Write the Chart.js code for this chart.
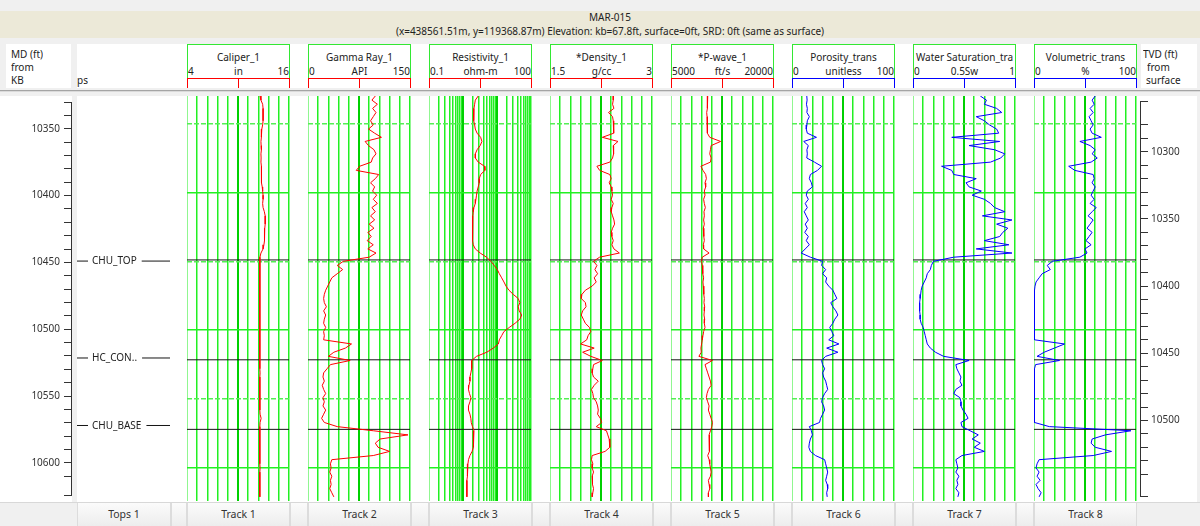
<!DOCTYPE html>
<html>
<head>
<meta charset="utf-8">
<title>MAR-015</title>
<script src="https://cdn.jsdelivr.net/npm/chart.js@4.4.1/dist/chart.umd.min.js"></script>
<style>
  html, body { margin: 0; padding: 0; }
  body {
    position: relative; width: 1200px; height: 526px; overflow: hidden;
    background: #f0f0f0; color: #222;
    font-family: "Noto Sans", "Liberation Sans", sans-serif; font-size: 10px;
  }
  .box { position: absolute; box-sizing: border-box; }
  .txt { position: absolute; white-space: nowrap; line-height: 13px; overflow: hidden; }
  canvas { position: absolute; }
</style>
</head>
<body>
<script>
// measured depth samples, ft from KB
const depthMD = [
  10330, 10333, 10336, 10339, 10342, 10345, 10348, 10351, 10354, 10357,
  10360, 10363, 10366, 10369, 10372, 10375, 10378, 10381, 10384, 10387,
  10390, 10393, 10396, 10399, 10402, 10405, 10408, 10411, 10414, 10417,
  10420, 10423, 10426, 10429, 10432, 10435, 10438, 10441, 10444, 10447,
  10450, 10453, 10456, 10459, 10462, 10465, 10468, 10471, 10474, 10477,
  10480, 10483, 10486, 10489, 10492, 10495, 10498, 10501, 10504, 10507,
  10510, 10513, 10516, 10519, 10522, 10525, 10528, 10531, 10534, 10537,
  10540, 10543, 10546, 10549, 10552, 10555, 10558, 10561, 10564, 10567,
  10570, 10573, 10576, 10579, 10582, 10585, 10588, 10591, 10594, 10597,
  10600, 10603, 10606, 10609, 10612, 10615, 10618, 10621
];

const caliper = [
  12.6, 12.7, 12.9, 12.95, 12.95, 12.95, 12.95, 12.9, 12.8, 12.75,
  12.75, 12.7, 12.72, 12.75, 12.7, 12.72, 12.7, 12.75, 12.72, 12.75,
  12.78, 12.8, 12.85, 12.9, 12.95, 12.95, 12.9, 12.95, 13.1, 13.2,
  13.2, 13.2, 13.15, 13.15, 13.1, 13.1, 13.05, 12.95, 12.7, 12.58,
  12.57, 12.57, 12.56, 12.57, 12.57, 12.58, 12.57, 12.56, 12.57, 12.57,
  12.57, 12.58, 12.57, 12.56, 12.57, 12.57, 12.58, 12.57, 12.57, 12.56,
  12.57, 12.57, 12.58, 12.57, 12.56, 12.57, 12.57, 12.6, 12.57, 12.57,
  12.56, 12.57, 12.57, 12.58, 12.57, 12.57, 12.58, 12.6, 12.72, 12.6,
  12.57, 12.57, 12.56, 12.57, 12.58, 12.57, 12.57, 12.56, 12.57, 12.57,
  12.6, 12.57, 12.57, 12.56, 12.57, 12.57, 12.57, 12.57
];

const gammaRay = [
  99, 94, 102, 95, 100, 96, 92, 96, 89, 98,
  108, 84, 89, 97, 100, 95, 93, 76, 71, 104,
  99, 92, 98, 95, 101, 96, 102, 94, 99, 92,
  98, 90, 97, 88, 93, 87, 96, 88, 100, 90,
  52, 43, 51, 43, 35, 32, 29, 26, 24, 23,
  24, 27, 23, 26, 24, 23, 26, 23, 24, 23,
  64, 55, 38, 30, 62, 33, 28, 23, 22, 24,
  21, 23, 26, 22, 24, 22, 26, 23, 20, 24,
  43, 96, 147, 106, 99, 103, 120, 96, 35, 33,
  34, 32, 35, 33, 34, 32, 35, 38
];

const resistivity = [
  2.8, 2.3, 2.2, 2.1, 2.0, 2.1, 2.1, 2.2, 2.3, 2.6,
  3.3, 3.6, 3.2, 2.6, 2.3, 2.3, 2.8, 4.3, 4.4, 3.3,
  3.0, 3.0, 2.8, 2.6, 2.5, 2.4, 2.3, 2.1, 2.0, 1.95,
  1.9, 1.9, 1.9, 1.9, 1.9, 1.95, 2.0, 2.3, 3.2, 4.9,
  6.6, 8.3, 10.2, 11.7, 13.7, 16, 18.4, 22.5, 30, 42,
  47, 42, 45, 53, 47, 34, 23, 16, 13.7, 11.7,
  11, 7.8, 5, 2.5, 1.8, 1.8, 1.8, 1.7, 1.6, 1.6,
  1.5, 1.45, 1.55, 1.7, 1.6, 1.45, 1.45, 1.6, 1.7, 1.75,
  1.9, 2.1, 2.1, 2.0, 2.0, 2.0, 1.85, 1.6, 1.45, 1.4,
  1.35, 1.35, 1.35, 1.3, 1.3, 1.3, 1.3, 1.3
];

const density = [
  2.43, 2.43, 2.42, 2.44, 2.36, 2.42, 2.43, 2.44, 2.43, 2.44,
  2.27, 2.50, 2.43, 2.44, 2.43, 2.42, 2.38, 2.19, 2.23, 2.38,
  2.40, 2.37, 2.40, 2.41, 2.42, 2.40, 2.43, 2.41, 2.40, 2.42,
  2.44, 2.45, 2.42, 2.40, 2.41, 2.43, 2.41, 2.44, 2.52, 2.23,
  2.14, 2.19, 2.16, 2.20, 2.15, 2.18, 2.12, 2.02, 1.97, 1.96,
  2.02, 2.03, 1.98, 1.96, 1.99, 2.02, 2.08, 2.10, 2.06, 2.04,
  1.95, 2.15, 1.98, 2.10, 2.27, 2.14, 2.13, 2.12, 2.14, 2.21,
  2.15, 2.11, 2.13, 2.14, 2.18, 2.20, 2.21, 2.20, 2.24, 2.26,
  2.18, 2.33, 2.35, 2.37, 2.38, 2.38, 2.31, 2.12, 2.11, 2.13,
  2.12, 2.14, 2.12, 2.13, 2.12, 2.14, 2.13, 2.12
];

const pWave = [
  10400, 10300, 10400, 10350, 10250, 10300, 10400, 10350, 10300, 10350,
  10700, 12300, 10900, 10800, 10700, 10900, 10800, 9400, 9700, 10100,
  10200, 10000, 10100, 9900, 10000, 9800, 9900, 10050, 9850, 9900,
  9800, 9900, 9750, 9850, 9800, 9900, 9750, 9800, 10600, 9600,
  9500, 9600, 9700, 9650, 9800, 9700, 9750, 9850, 9800, 9900,
  9850, 9950, 9900, 9850, 9950, 9900, 10000, 9800, 9700, 9600,
  9500, 9400, 9450, 9100, 11100, 10000, 10200, 10400, 10600, 10800,
  10900, 10500, 10300, 10200, 10400, 10600, 10500, 10700, 10900, 11100,
  11000, 10800, 10600, 10700, 10600, 10700, 10600, 10400, 10600, 10700,
  10800, 10900, 10800, 10500, 10600, 10700, 10500, 10500
];

const porosity = [
  14.5, 14.8, 14.2, 15, 14.6, 17, 15, 14.6, 14, 15,
  24, 11.5, 16, 14.6, 15, 14.5, 22, 29, 25, 18,
  17, 19, 20, 15, 14, 16, 13, 15, 12, 14,
  16, 13, 15, 12.5, 16, 14, 17, 13, 9, 18,
  30, 29, 33, 30, 34, 33, 36, 40, 42, 44,
  38, 40, 43, 45, 42, 40, 37, 39, 41, 36,
  46, 34, 45, 33, 29, 30, 32, 30, 31, 33,
  34, 35, 32, 30, 29, 31, 32, 30, 28, 27,
  17, 19, 20, 18, 17, 16.5, 18, 23, 32, 33,
  34, 35, 34, 33, 34.5, 35, 34, 34.5
];

const waterSat = [
  0.66, 0.72, 0.70, 0.82, 0.87, 0.62, 0.70, 0.75, 0.82, 0.84,
  0.38, 0.85, 0.55, 0.80, 0.90, 0.86, 0.76, 0.28, 0.38, 0.40,
  0.62, 0.52, 0.55, 0.67, 0.58, 0.70, 0.76, 0.80, 0.90, 0.68,
  0.97, 0.82, 0.93, 0.88, 0.85, 0.70, 0.94, 0.62, 0.97, 0.40,
  0.20, 0.18, 0.17, 0.14, 0.13, 0.11, 0.09, 0.08, 0.075, 0.07,
  0.065, 0.065, 0.065, 0.07, 0.07, 0.08, 0.10, 0.11, 0.12, 0.13,
  0.14, 0.17, 0.22, 0.30, 0.55, 0.42, 0.43, 0.45, 0.47, 0.46,
  0.48, 0.42, 0.40, 0.46, 0.47, 0.47, 0.49, 0.52, 0.54, 0.47,
  0.48, 0.56, 0.64, 0.58, 0.66, 0.60, 0.70, 0.48, 0.42, 0.43,
  0.44, 0.42, 0.45, 0.43, 0.44, 0.42, 0.45, 0.44
];

const volumetric = [
  60, 57, 59, 55, 58, 54, 56, 58, 55, 57,
  66, 45, 55, 60, 57, 62, 56, 34, 40, 58,
  59, 57, 60, 58, 56, 59, 55, 61, 57, 53,
  58, 55, 52, 57, 54, 51, 56, 50, 52, 45,
  18, 13, 16, 8, 5, 2, 1, 0.5, 0.5, 0.5,
  0.5, 0.5, 0.5, 0.5, 0.5, 0.5, 0.5, 0.5, 0.5, 0.5,
  30, 20, 10, 3, 25, 1.5, 0.5, 0.5, 0.5, 0.5,
  0.5, 0.5, 0.5, 0.5, 0.5, 0.5, 0.5, 0.5, 0.5, 0.5,
  15, 95, 70, 57, 56, 60, 76, 58, 5, 3,
  2, 5, 3, 6, 2, 4, 7, 5
];

// formation tops
const topNames = ['CHU_TOP', 'HC_CON..', 'CHU_BASE'];
const topDepths = [10449, 10521.5, 10572];

// track headers
const trackNames = ['Track 1', 'Track 2', 'Track 3', 'Track 4', 'Track 5', 'Track 6', 'Track 7', 'Track 8'];
const curveTitles = ['Caliper_1', 'Gamma Ray_1', 'Resistivity_1', '*Density_1', '*P-wave_1', 'Porosity_trans', 'Water Saturation_tra', 'Volumetric_trans'];
const curveUnits = ['in', 'API', 'ohm-m', 'g/cc', 'ft/s', 'unitless', '0.5Sw', '%'];
const scaleMin = [4, 0, 0.1, 1.5, 5000, 0, 0, 0];
const scaleMax = [16, 150, 100, 3, 20000, 100, 1, 100];
const scaleMinLabels = ['4', '0', '0.1', '1.5', '5000', '0', '0', '0'];
const scaleMaxLabels = ['16', '150', '100', '3', '20000', '100', '1', '100'];
const curveSeries = [caliper, gammaRay, resistivity, density, pWave, porosity, waterSat, volumetric];

const MD_TOP = 10330, MD_BOTTOM = 10624;
const KB_ELEV = 67.8;

const GRID = '#22f022';
const GRID_DASH = '#55ee55';
const GRID_MAJOR = '#00d000';
const HEAD_GREEN = '#33e833';
const RED = '#ff0000';
const BLUE = '#0000ff';
const FONT = '"Noto Sans", "Liberation Sans", sans-serif';

Chart.defaults.font.family = FONT;
Chart.defaults.font.size = 10;
Chart.defaults.color = '#333';

function el(cls, left, top, w, h, css, text) {
  const d = document.createElement('div');
  d.className = cls;
  d.style.cssText = 'left:' + left + 'px;top:' + top + 'px;' +
    (w != null ? 'width:' + w + 'px;' : '') + (h != null ? 'height:' + h + 'px;' : '') + (css || '');
  if (text != null) d.textContent = text;
  document.body.appendChild(d);
  return d;
}

function makeCtx(left, top, w, h) {
  const c = document.createElement('canvas');
  c.width = w; c.height = h;
  c.style.left = left + 'px'; c.style.top = top + 'px';
  c.style.width = w + 'px'; c.style.height = h + 'px';
  document.body.appendChild(c);
  return c.getContext('2d');
}

// ---- frame: title band, header panels, separator, plot background, footer ----
el('box', 0, 11, 1200, 27, 'background:#ece9d8;');
el('txt', 0, 11, 1220, 13, 'text-align:center;', 'MAR-015');
el('txt', 0, 25, 1220, 13, 'text-align:center;',
  '(x=438561.51m, y=119368.87m) Elevation: kb=67.8ft, surface=0ft, SRD: 0ft (same as surface)');

el('box', 6, 44, 65, 44, 'background:#fff;');
el('box', 77, 44, 1059, 44, 'background:#fff;');
el('box', 1141, 44, 56, 44, 'background:#fff;');
el('txt', 11, 48, null, 13, '', 'MD (ft)');
el('txt', 11, 61, null, 13, '', 'from');
el('txt', 11, 74, null, 13, '', 'KB');
el('txt', 77, 74, null, 13, '', 'ps');
el('txt', 1143, 48, null, 13, '', 'TVD (ft)');
el('txt', 1147, 61, null, 13, '', 'from');
el('txt', 1146, 74, null, 13, '', 'surface');

el('box', 0, 90, 1200, 1, 'background:#a4a4a4;');
el('box', 0, 91, 1200, 1, 'background:#dadada;');

el('box', 0, 96, 72, 406, 'background:#fff;');
el('box', 77, 96, 1120, 406, 'background:#fff;');

el('box', 0, 502, 1200, 24, 'background:#f0f0f0;border-top:1px solid #d8d8d8;');
const CELL = 'background:linear-gradient(#fbfbfb,#ededed);border-right:1px solid #dcdcdc;border-left:1px solid #dcdcdc;text-align:center;line-height:23px;color:#333;font-size:10.5px;';
el('box', 77, 503, 94, 23, CELL).textContent = 'Tops 1';
el('box', 171, 503, 16, 23, CELL);

const TRACK_X0 = 187, TRACK_STEP = 121, TRACK_W = 103;

// ---- tracks ----
curveTitles.forEach((title, i) => {
  const L = TRACK_X0 + TRACK_STEP * i;
  const isLog = i === 2;
  const color = i < 5 ? RED : BLUE;
  const lo = scaleMin[i], hi = scaleMax[i];

  // header
  el('box', L, 44, TRACK_W, 44, 'border:1px solid ' + HEAD_GREEN + ';border-bottom:none;background:#fff;');
  el('txt', L + 1, 51, TRACK_W - 2, 13, 'text-align:center;', title);
  el('txt', L + 1, 65, null, 13, '', scaleMinLabels[i]);
  el('txt', L, 65, TRACK_W, 13, 'text-align:center;', curveUnits[i]);
  el('txt', L, 65, TRACK_W - 1, 13, 'text-align:right;', scaleMaxLabels[i]);
  el('box', L, 78, TRACK_W, 1, 'background:' + color + ';');
  [0, 51, 102].forEach(dx => el('box', L + dx, 78, 1, 10, 'background:' + color + ';'));

  // footer cell
  el('box', L, 503, TRACK_W, 23, CELL).textContent = trackNames[i];
  if (i < 7) el('box', L + TRACK_W, 503, TRACK_STEP - TRACK_W, 23, CELL);

  // vertical grid positions
  let xGrid = [];
  if (isLog) {
    [0.1, 1, 10].forEach(d => { for (let m = 1; m <= 9; m++) xGrid.push(d * m); });
    xGrid.push(100);
  } else {
    for (let k = 0; k <= 10; k++) xGrid.push(lo + k * (hi - lo) / 10);
  }
  const isMajor = (c) => {
    if (!c.tick) return false;
    return isLog ? (c.tick.value === 1 || c.tick.value === 10) : c.index === 5;
  };

  const yBase = {
    type: 'linear', reverse: true, min: MD_TOP, max: MD_BOTTOM, position: 'left',
    afterFit: s => { s.width = 0; },
    ticks: { display: false }
  };

  const datasets = [{
    data: depthMD.map((d, k) => ({ x: curveSeries[i][k], y: d })),
    borderColor: color, borderWidth: 1, pointRadius: 0, tension: 0
  }].concat(topDepths.map(d => ({
    data: [{ x: lo, y: d }, { x: hi, y: d }],
    borderColor: '#151515', borderWidth: 1, pointRadius: 0
  })));

  new Chart(makeCtx(L, 92, TRACK_W, 413), {
    type: 'line',
    data: { datasets },
    options: {
      responsive: false, animation: false, events: [], indexAxis: 'y',
      layout: { autoPadding: false, padding: { top: 4, bottom: 4, left: 0, right: 1 } },
      plugins: { legend: { display: false }, tooltip: { enabled: false } },
      scales: {
        x: {
          type: isLog ? 'logarithmic' : 'linear', min: lo, max: hi, position: 'bottom',
          afterBuildTicks: s => { s.ticks = xGrid.map(v => ({ value: v })); },
          afterFit: s => { s.height = 0; },
          ticks: { display: false },
          border: { display: false },
          grid: {
            drawTicks: false,
            color: c => isMajor(c) ? GRID_MAJOR : GRID,
            lineWidth: c => isMajor(c) ? 2 : 1.5
          }
        },
        y: Object.assign({}, yBase, {
          afterBuildTicks: s => { s.ticks = [10400, 10500, 10600].map(v => ({ value: v })); },
          border: { display: false },
          grid: { drawTicks: false, color: GRID, lineWidth: 1.5 }
        }),
        y2: Object.assign({}, yBase, {
          afterBuildTicks: s => { s.ticks = [10350, 10450, 10550].map(v => ({ value: v })); },
          border: { display: false, dash: [5, 2] },
          grid: { drawTicks: false, color: GRID_DASH, lineWidth: 1.5 }
        })
      }
    }
  });
});

// ---- MD axis and tops column ----
const topLabels = {
  id: 'topLabels',
  afterDatasetsDraw(chart) {
    const { ctx, scales: { x, y } } = chart;
    ctx.save();
    ctx.font = '10px ' + FONT;
    ctx.textBaseline = 'middle';
    topNames.forEach((name, k) => {
      const py = y.getPixelForValue(topDepths[k]);
      const px = x.getPixelForValue(21);
      const w = ctx.measureText(name).width;
      ctx.fillStyle = '#fff';
      ctx.fillRect(px - 4, py - 4, w + 9, 8);
      ctx.fillStyle = '#222';
      ctx.fillText(name, px, py + 0.5);
    });
    ctx.restore();
  }
};

const depthTick = (v) => Math.abs(v % 50) < 1e-6 ? String(v) : '';

new Chart(makeCtx(0, 92, 172, 413), {
  type: 'line',
  data: {
    datasets: topDepths.map(d => ({
      data: [{ x: 6, y: d }, { x: 99, y: d }],
      borderColor: '#151515', borderWidth: 1, pointRadius: 0
    }))
  },
  options: {
    responsive: false, animation: false, events: [],
    layout: { autoPadding: false, padding: { top: 4, bottom: 4, left: 0, right: 1 } },
    plugins: { legend: { display: false }, tooltip: { enabled: false } },
    scales: {
      x: { type: 'linear', min: 0, max: 100, display: false },
      y: {
        type: 'linear', reverse: true, min: MD_TOP, max: MD_BOTTOM, position: 'left',
        afterFit: s => { s.width = 71; },
        ticks: { stepSize: 10, autoSkip: false, padding: 4, callback: depthTick, color: '#333' },
        grid: { drawOnChartArea: false, tickLength: 7, color: '#333' },
        border: { color: '#333' }
      }
    }
  },
  plugins: [topLabels]
});

// ---- TVD axis ----
new Chart(makeCtx(1130, 92, 70, 413), {
  type: 'line',
  data: { datasets: [] },
  options: {
    responsive: false, animation: false, events: [],
    layout: { autoPadding: false, padding: { top: 4, bottom: 4, left: 0, right: 0 } },
    plugins: { legend: { display: false }, tooltip: { enabled: false } },
    scales: {
      x: { type: 'linear', min: 0, max: 1, display: false },
      y: {
        type: 'linear', reverse: true, position: 'right',
        min: MD_TOP - KB_ELEV, max: MD_BOTTOM - KB_ELEV,
        afterFit: s => { s.width = 60; },
        ticks: { stepSize: 10, autoSkip: false, padding: 3, callback: depthTick, color: '#333' },
        grid: { drawOnChartArea: false, tickLength: 8, color: '#333' },
        border: { color: '#333' }
      }
    }
  }
});
</script>
</body>
</html>
